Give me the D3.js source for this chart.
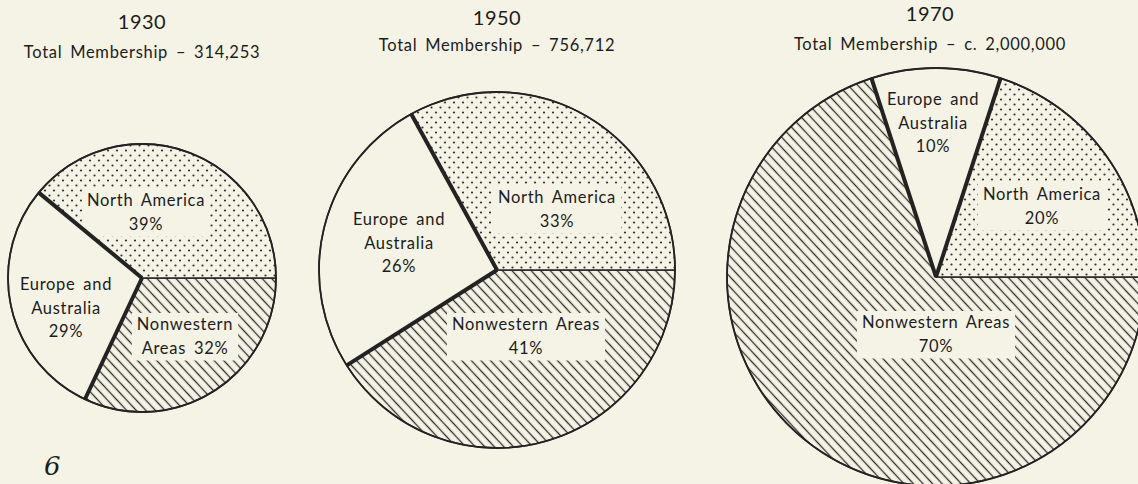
<!DOCTYPE html>
<html>
<head>
<meta charset="utf-8">
<script src="https://cdn.jsdelivr.net/npm/d3@7"></script>
<style>
  html, body { margin: 0; padding: 0; background: #f5f3e5; }
  svg { display: block; }
  text { font-family: Lato, "Noto Sans", sans-serif; fill: #1c1c1c; }
</style>
</head>
<body>
<div id="chart"></div>
<script>
// data
var years = ["1930", "1950", "1970"];
var totals = ["Total Membership \u2013 314,253", "Total Membership \u2013 756,712", "Total Membership \u2013 c. 2,000,000"];
var regions = ["Nonwestern Areas", "Europe and Australia", "North America"];
var shares1930 = [32, 29, 39];
var shares1950 = [41, 26, 33];
var shares1970 = [70, 10, 20];

// layout (positions only)
var W = 1138, H = 484;
var paper = "#f5f3e5", ink = "#232323";
var pies = [
  { shares: shares1930, cx: 142, cy: 278, r: 134, yearY: 29, totalY: 58, titleX: 142,
    labels: [
      { lines: ["Nonwestern", "Areas 32%"], dx: 43, dy: 52, box: true },
      { lines: ["Europe and", "Australia", "29%"], dx: -76, dy: 12, box: false },
      { lines: ["North America", "39%"], dx: 4, dy: -72, box: true }
    ] },
  { shares: shares1950, cx: 497, cy: 270, r: 178, yearY: 25, totalY: 51, titleX: 497,
    labels: [
      { lines: ["Nonwestern Areas", "41%"], dx: 29, dy: 60, box: true },
      { lines: ["Europe and", "Australia", "26%"], dx: -98, dy: -45, box: false },
      { lines: ["North America", "33%"], dx: 60, dy: -67, box: true }
    ] },
  { shares: shares1970, cx: 936, cy: 277, r: 209, yearY: 21, totalY: 50, titleX: 930,
    labels: [
      { lines: ["Nonwestern Areas", "70%"], dx: 0, dy: 51, box: true },
      { lines: ["Europe and", "Australia", "10%"], dx: -3, dy: -172, box: false },
      { lines: ["North America", "20%"], dx: 106, dy: -77, box: true }
    ] }
];

var svg = d3.select("#chart").append("svg")
    .attr("width", W)
    .attr("height", H);

svg.append("rect").attr("width", W).attr("height", H).attr("fill", paper);

// patterns: hatching and stipple
var defs = svg.append("defs");
var hatch = defs.append("pattern")
    .attr("id", "hatch")
    .attr("patternUnits", "userSpaceOnUse")
    .attr("width", 7).attr("height", 7)
    .attr("patternTransform", "rotate(47)");
hatch.append("rect").attr("width", 7).attr("height", 7).attr("fill", paper);
hatch.append("line")
    .attr("x1", 0).attr("y1", 3.5).attr("x2", 7).attr("y2", 3.5)
    .attr("stroke", "#2e2e2e").attr("stroke-width", 1.3);

var dots = defs.append("pattern")
    .attr("id", "dots")
    .attr("patternUnits", "userSpaceOnUse")
    .attr("width", 9).attr("height", 10);
dots.append("rect").attr("width", 9).attr("height", 10).attr("fill", paper);
dots.append("circle").attr("cx", 2).attr("cy", 2.5).attr("r", 1.1).attr("fill", "#333");
dots.append("circle").attr("cx", 6.5).attr("cy", 7.5).attr("r", 1.1).attr("fill", "#333");

var fills = ["url(#hatch)", paper, "url(#dots)"];

// slices start at 3 o'clock and run clockwise
var pie = d3.pie()
    .sort(null)
    .startAngle(Math.PI / 2)
    .endAngle(Math.PI / 2 + 2 * Math.PI);

pies.forEach(function (p, i) {
    var g = svg.append("g").attr("transform", "translate(" + p.cx + "," + p.cy + ")");
    var arcs = pie(p.shares);
    var arc = d3.arc().innerRadius(0).outerRadius(p.r);

    g.selectAll("path.slice")
        .data(arcs)
        .enter()
        .append("path")
        .attr("class", "slice")
        .attr("d", arc)
        .attr("fill", function (d, j) { return fills[j]; })
        .attr("stroke", ink)
        .attr("stroke-width", 1.5)
        .attr("stroke-linejoin", "round");

    var boxLayer = g.append("g");
    var ruleLayer = g.append("g");
    var textLayer = g.append("g");

    // heavy rules on both sides of the Europe and Australia slice
    var ea = arcs[1];
    [ea.startAngle, ea.endAngle].forEach(function (a) {
        ruleLayer.append("line")
            .attr("x1", 0).attr("y1", 0)
            .attr("x2", p.r * Math.sin(a))
            .attr("y2", -p.r * Math.cos(a))
            .attr("stroke", ink)
            .attr("stroke-width", 4);
    });

    ruleLayer.append("circle")
        .attr("r", p.r)
        .attr("fill", "none")
        .attr("stroke", ink)
        .attr("stroke-width", 1.8);

    // labels, with a clear box knocked out of the pattern
    p.labels.forEach(function (lb) {
        var t = textLayer.append("text")
            .attr("text-anchor", "middle")
            .style("font-size", "16.5px")
            .style("letter-spacing", "0.7px")
            .style("word-spacing", "3px");
        lb.lines.forEach(function (s, k) {
            t.append("tspan")
                .attr("x", lb.dx)
                .attr("y", lb.dy + k * 23.5)
                .text(s);
        });
        if (lb.box) {
            var bb = t.node().getBBox();
            boxLayer.append("rect")
                .attr("fill", paper)
                .attr("x", bb.x - 5).attr("y", bb.y - 1)
                .attr("width", bb.width + 10).attr("height", bb.height + 4);
        }
    });

    // titles
    svg.append("text")
        .attr("x", p.titleX)
        .attr("y", p.yearY)
        .attr("text-anchor", "middle")
        .style("font-size", "20px")
        .style("letter-spacing", "0.5px")
        .text(years[i]);

    svg.append("text")
        .attr("x", p.titleX)
        .attr("y", p.totalY)
        .attr("text-anchor", "middle")
        .style("font-size", "16.5px")
        .style("letter-spacing", "0.7px")
        .style("word-spacing", "3px")
        .text(totals[i]);
});

// page number
svg.append("text")
    .attr("x", 44)
    .attr("y", 475)
    .style("font-family", "'DejaVu Serif', serif")
    .style("font-style", "italic")
    .style("font-size", "26px")
    .text("6");
</script>
</body>
</html>
